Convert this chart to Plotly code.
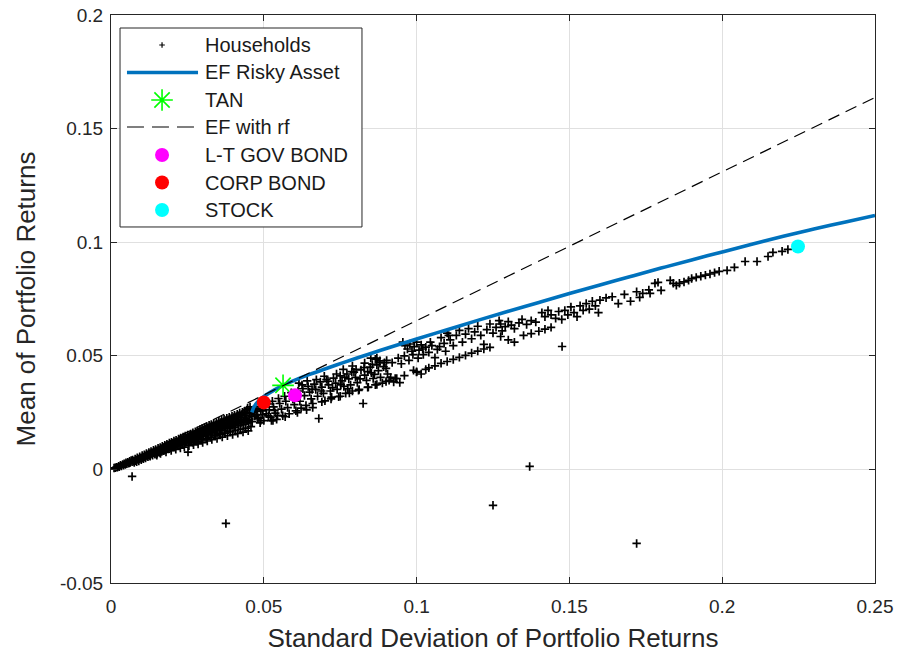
import plotly.graph_objects as go

# ---------------------------------------------------------------------------
# Household portfolios: (standard deviation, mean) of realised returns
# ---------------------------------------------------------------------------
household_points = [
    # low-risk wedge near the origin
    (0.0010, 0.0006), (0.0014, 0.0007), (0.0018, 0.0010), (0.0021, 0.0009), (0.0025, 0.0014), (0.0027, 0.0011),
    (0.0031, 0.0018), (0.0034, 0.0015), (0.0038, 0.0022), (0.0041, 0.0018), (0.0043, 0.0025), (0.0047, 0.0021),
    (0.0049, 0.0029), (0.0052, 0.0025), (0.0055, 0.0032), (0.0058, 0.0027), (0.0061, 0.0036), (0.0063, 0.0030),
    (0.0066, 0.0039), (0.0069, 0.0033), (0.0071, 0.0042), (0.0074, 0.0036), (0.0076, 0.0030), (0.0079, 0.0046),
    (0.0081, 0.0040), (0.0084, 0.0034), (0.0086, 0.0051), (0.0089, 0.0044), (0.0091, 0.0037), (0.0094, 0.0056),
    (0.0096, 0.0049), (0.0099, 0.0042), (0.0102, 0.0061), (0.0104, 0.0054), (0.0106, 0.0047), (0.0109, 0.0065),
    (0.0111, 0.0058), (0.0113, 0.0050), (0.0116, 0.0070), (0.0119, 0.0062), (0.0121, 0.0055), (0.0124, 0.0075),
    (0.0126, 0.0067), (0.0128, 0.0058), (0.0131, 0.0079), (0.0134, 0.0071), (0.0136, 0.0062), (0.0139, 0.0084),
    (0.0141, 0.0075), (0.0144, 0.0066), (0.0146, 0.0088), (0.0149, 0.0080), (0.0151, 0.0070), (0.0154, 0.0093),
    (0.0156, 0.0084), (0.0159, 0.0074), (0.0161, 0.0097), (0.0163, 0.0089), (0.0166, 0.0079), (0.0168, 0.0102),
    (0.0171, 0.0093), (0.0173, 0.0082), (0.0176, 0.0107), (0.0178, 0.0097), (0.0181, 0.0087), (0.0183, 0.0111),
    (0.0186, 0.0101), (0.0188, 0.0090), (0.0191, 0.0116), (0.0193, 0.0106), (0.0196, 0.0094), (0.0198, 0.0120),
    (0.0201, 0.0110), (0.0203, 0.0098), (0.0206, 0.0125), (0.0208, 0.0114), (0.0211, 0.0102), (0.0213, 0.0129),
    (0.0216, 0.0118), (0.0218, 0.0105), (0.0221, 0.0134), (0.0223, 0.0123), (0.0226, 0.0109), (0.0228, 0.0138),
    (0.0231, 0.0127), (0.0233, 0.0113), (0.0236, 0.0143), (0.0238, 0.0131), (0.0241, 0.0117), (0.0243, 0.0147),
    (0.0246, 0.0135), (0.0248, 0.0121), (0.0251, 0.0152), (0.0252, 0.0076), (0.0254, 0.0139), (0.0256, 0.0124),
    (0.0258, 0.0145), (0.0261, 0.0156), (0.0263, 0.0128), (0.0266, 0.0150), (0.0268, 0.0161), (0.0270, 0.0108),
    (0.0272, 0.0133), (0.0274, 0.0155), (0.0276, 0.0166), (0.0279, 0.0138), (0.0281, 0.0159), (0.0283, 0.0170),
    (0.0285, 0.0112), (0.0287, 0.0142), (0.0289, 0.0163), (0.0291, 0.0176), (0.0294, 0.0147), (0.0296, 0.0168),
    (0.0298, 0.0180), (0.0300, 0.0118), (0.0302, 0.0151), (0.0304, 0.0172), (0.0306, 0.0185), (0.0309, 0.0156),
    (0.0311, 0.0177), (0.0313, 0.0189), (0.0315, 0.0125), (0.0317, 0.0160), (0.0319, 0.0181), (0.0321, 0.0194),
    (0.0324, 0.0165), (0.0326, 0.0186), (0.0328, 0.0198), (0.0330, 0.0131), (0.0332, 0.0169), (0.0334, 0.0190),
    (0.0336, 0.0203), (0.0339, 0.0148), (0.0341, 0.0174), (0.0343, 0.0195), (0.0345, 0.0207), (0.0347, 0.0136),
    (0.0349, 0.0178), (0.0351, 0.0199), (0.0353, 0.0212), (0.0356, 0.0154), (0.0358, 0.0183), (0.0360, 0.0204),
    (0.0362, 0.0216), (0.0364, 0.0142), (0.0366, 0.0187), (0.0368, 0.0208), (0.0370, 0.0221), (0.0373, 0.0160),
    (0.0375, 0.0192), (0.0377, 0.0213), (0.0379, 0.0225), (0.0381, 0.0148), (0.0383, 0.0196), (0.0385, 0.0217),
    (0.0387, 0.0230), (0.0390, 0.0165), (0.0392, 0.0201), (0.0394, 0.0222), (0.0396, 0.0234), (0.0398, 0.0153),
    (0.0400, 0.0205), (0.0402, 0.0226), (0.0404, 0.0239), (0.0407, 0.0171), (0.0409, 0.0210), (0.0411, 0.0231),
    (0.0413, 0.0243), (0.0415, 0.0159), (0.0417, 0.0214), (0.0419, 0.0235), (0.0421, 0.0248), (0.0424, 0.0177),
    (0.0426, 0.0219), (0.0428, 0.0240), (0.0430, 0.0252), (0.0432, 0.0164), (0.0434, 0.0198), (0.0436, 0.0244),
    (0.0438, 0.0257), (0.0441, 0.0182), (0.0443, 0.0224), (0.0445, 0.0262), (0.0447, 0.0270), (0.0449, 0.0170),
    (0.0451, 0.0205), (0.0453, 0.0250), (0.0455, 0.0275), (0.0458, 0.0188), (0.0460, 0.0232),
    (0.0150, 0.0062), (0.0162, 0.0070), (0.0172, 0.0089), (0.0180, 0.0076), (0.0190, 0.0100), (0.0197, 0.0083),
    (0.0205, 0.0107), (0.0212, 0.0088), (0.0219, 0.0113), (0.0227, 0.0094), (0.0234, 0.0121), (0.0240, 0.0098),
    (0.0247, 0.0128), (0.0255, 0.0104), (0.0262, 0.0136), (0.0269, 0.0118), (0.0277, 0.0146), (0.0284, 0.0124),
    (0.0290, 0.0152), (0.0297, 0.0130), (0.0305, 0.0160), (0.0312, 0.0135), (0.0320, 0.0170), (0.0327, 0.0142),
    (0.0335, 0.0178), (0.0342, 0.0150), (0.0350, 0.0188), (0.0357, 0.0160), (0.0365, 0.0196), (0.0372, 0.0170),
    (0.0380, 0.0205), (0.0388, 0.0178), (0.0395, 0.0212), (0.0403, 0.0186), (0.0410, 0.0220), (0.0418, 0.0193),
    (0.0425, 0.0230), (0.0433, 0.0206), (0.0440, 0.0238), (0.0448, 0.0215), (0.0455, 0.0245), (0.0462, 0.0210),
    (0.0468, 0.0250), (0.0475, 0.0240), (0.0483, 0.0228), (0.0490, 0.0215), (0.0497, 0.0258), (0.0508, 0.0245),
    (0.0515, 0.0236), (0.0525, 0.0215), (0.0535, 0.0260), (0.0545, 0.0238),
    (0.0060, 0.0029), (0.0080, 0.0038), (0.0092, 0.0046), (0.0101, 0.0050), (0.0110, 0.0054), (0.0118, 0.0058),
    (0.0127, 0.0061), (0.0135, 0.0066), (0.0143, 0.0070), (0.0152, 0.0075), (0.0160, 0.0078), (0.0169, 0.0083),
    (0.0177, 0.0086), (0.0185, 0.0092), (0.0194, 0.0096), (0.0202, 0.0101), (0.0210, 0.0104), (0.0218, 0.0109),
    (0.0227, 0.0113), (0.0235, 0.0116), (0.0244, 0.0121), (0.0252, 0.0125), (0.0260, 0.0130), (0.0268, 0.0133),
    (0.0277, 0.0137), (0.0286, 0.0142), (0.0294, 0.0146), (0.0303, 0.0150), (0.0311, 0.0153), (0.0320, 0.0158),
    (0.0329, 0.0162), (0.0337, 0.0166), (0.0346, 0.0170), (0.0355, 0.0174), (0.0363, 0.0178), (0.0372, 0.0182),
    (0.0381, 0.0186), (0.0390, 0.0190), (0.0398, 0.0195), (0.0407, 0.0199), (0.0416, 0.0203), (0.0425, 0.0206),
    (0.0434, 0.0211), (0.0443, 0.0215), (0.0452, 0.0219),
    # around the bond portfolios
    (0.0465, 0.0262), (0.0472, 0.0270), (0.0478, 0.0255), (0.0485, 0.0278), (0.0490, 0.0262), (0.0495, 0.0240),
    (0.0470, 0.0235), (0.0480, 0.0222), (0.0488, 0.0205), (0.0500, 0.0215), (0.0505, 0.0275), (0.0512, 0.0288),
    (0.0518, 0.0262), (0.0522, 0.0230), (0.0528, 0.0300), (0.0532, 0.0275), (0.0538, 0.0248), (0.0542, 0.0220),
    (0.0548, 0.0312), (0.0552, 0.0290), (0.0558, 0.0265), (0.0562, 0.0236), (0.0568, 0.0322), (0.0572, 0.0300),
    (0.0578, 0.0272), (0.0583, 0.0245), (0.0590, 0.0338), (0.0595, 0.0310), (0.0600, 0.0285), (0.0605, 0.0258),
    (0.0612, 0.0345), (0.0618, 0.0300), (0.0622, 0.0270), (0.0628, 0.0355), (0.0633, 0.0325), (0.0638, 0.0282),
    (0.0645, 0.0365), (0.0650, 0.0340), (0.0655, 0.0310), (0.0660, 0.0290), (0.0665, 0.0375), (0.0670, 0.0352),
    (0.0676, 0.0322), (0.0680, 0.0224), (0.0685, 0.0385), (0.0690, 0.0362), (0.0695, 0.0335), (0.0700, 0.0302),
    (0.0705, 0.0395), (0.0712, 0.0372), (0.0718, 0.0345), (0.0722, 0.0318), (0.0728, 0.0402), (0.0735, 0.0380),
    (0.0740, 0.0352), (0.0745, 0.0320), (0.0750, 0.0412), (0.0756, 0.0390), (0.0762, 0.0365), (0.0768, 0.0335),
    (0.0772, 0.0420), (0.0778, 0.0398), (0.0784, 0.0372), (0.0790, 0.0345), (0.0795, 0.0428), (0.0800, 0.0405),
    (0.0806, 0.0382), (0.0812, 0.0352), (0.0818, 0.0438), (0.0825, 0.0290), (0.0830, 0.0415), (0.0836, 0.0392),
    (0.0842, 0.0362), (0.0848, 0.0450), (0.0852, 0.0425), (0.0858, 0.0400), (0.0865, 0.0372), (0.0870, 0.0460),
    (0.0875, 0.0435), (0.0882, 0.0405), (0.0888, 0.0380), (0.0895, 0.0470), (0.0900, 0.0445),
    (0.0530, 0.0215), (0.0570, 0.0232), (0.0610, 0.0250), (0.0640, 0.0262), (0.0660, 0.0272),
    (0.0760, 0.0440), (0.0790, 0.0455), (0.0830, 0.0468), (0.0870, 0.0490), (0.0850, 0.0490), (0.0865, 0.0485),
    (0.0880, 0.0478),
    (0.0615, 0.0380), (0.0625, 0.0372), (0.0642, 0.0390), (0.0658, 0.0352), (0.0672, 0.0395), (0.0688, 0.0345),
    (0.0698, 0.0410), (0.0710, 0.0388), (0.0725, 0.0360), (0.0738, 0.0420), (0.0752, 0.0372), (0.0765, 0.0405),
    (0.0775, 0.0355), (0.0788, 0.0430), (0.0802, 0.0440), (0.0815, 0.0398), (0.0828, 0.0448), (0.0840, 0.0430),
    (0.0855, 0.0462), (0.0862, 0.0418), (0.0878, 0.0470), (0.0892, 0.0452),
    (0.0690, 0.0297), (0.0720, 0.0310), (0.0750, 0.0322), (0.0780, 0.0336), (0.0810, 0.0348), (0.0840, 0.0361),
    (0.0870, 0.0374), (0.0900, 0.0387), (0.0930, 0.0400), (0.0960, 0.0413), (0.1000, 0.0430), (0.1040, 0.0447),
    (0.1060, 0.0456),
    # mid-risk band
    (0.0905, 0.0420), (0.0910, 0.0392), (0.0915, 0.0405), (0.0925, 0.0385), (0.0935, 0.0400), (0.0945, 0.0382),
    (0.0902, 0.0480), (0.0920, 0.0470), (0.0940, 0.0490), (0.0950, 0.0465), (0.0960, 0.0500), (0.0975, 0.0480),
    (0.0988, 0.0505), (0.1005, 0.0490), (0.1020, 0.0530), (0.1045, 0.0560), (0.1075, 0.0540), (0.1095, 0.0520),
    (0.1105, 0.0590),
    (0.0955, 0.0560), (0.0962, 0.0545), (0.0970, 0.0530), (0.0978, 0.0552), (0.0985, 0.0520), (0.0992, 0.0540),
    (0.1000, 0.0560), (0.1008, 0.0525), (0.1015, 0.0548), (0.1022, 0.0505), (0.1030, 0.0538), (0.1040, 0.0515),
    (0.1050, 0.0545), (0.1060, 0.0492), (0.1068, 0.0528), (0.0990, 0.0436), (0.1000, 0.0428), (0.1015, 0.0420),
    (0.1030, 0.0440),
    (0.1080, 0.0580), (0.1090, 0.0555), (0.1100, 0.0600), (0.1110, 0.0570), (0.1120, 0.0545), (0.1130, 0.0590),
    (0.1140, 0.0612), (0.1150, 0.0560), (0.1160, 0.0595), (0.1170, 0.0620), (0.1180, 0.0575), (0.1190, 0.0605),
    (0.1200, 0.0630), (0.1210, 0.0590), (0.1220, 0.0550), (0.1230, 0.0615), (0.1240, 0.0640), (0.1250, 0.0600),
    (0.1260, 0.0625), (0.1270, 0.0655), (0.1280, 0.0610),
    (0.1080, 0.0467), (0.1100, 0.0475), (0.1120, 0.0484), (0.1140, 0.0493), (0.1160, 0.0502), (0.1180, 0.0512),
    (0.1200, 0.0521), (0.1220, 0.0530), (0.1240, 0.0537),
    # higher-risk band
    (0.1275, 0.0640), (0.1290, 0.0628), (0.1300, 0.0650), (0.1310, 0.0635), (0.1320, 0.0620), (0.1335, 0.0645),
    (0.1345, 0.0660), (0.1360, 0.0638), (0.1375, 0.0655), (0.1390, 0.0648),
    (0.1275, 0.0585), (0.1300, 0.0570), (0.1320, 0.0560), (0.1350, 0.0590), (0.1375, 0.0598), (0.1400, 0.0608),
    (0.1420, 0.0617), (0.1440, 0.0625),
    (0.1410, 0.0690), (0.1420, 0.0672), (0.1430, 0.0700), (0.1440, 0.0680), (0.1455, 0.0665), (0.1465, 0.0695),
    (0.1475, 0.0660), (0.1476, 0.0541), (0.1485, 0.0700), (0.1495, 0.0680), (0.1505, 0.0715), (0.1515, 0.0690),
    (0.1525, 0.0672), (0.1535, 0.0720), (0.1545, 0.0700), (0.1555, 0.0730), (0.1565, 0.0705), (0.1575, 0.0740),
    (0.1585, 0.0720), (0.1595, 0.0690), (0.1600, 0.0745),
    (0.1620, 0.0755), (0.1640, 0.0760), (0.1660, 0.0730), (0.1680, 0.0770), (0.1700, 0.0740), (0.1720, 0.0782),
    (0.1740, 0.0775), (0.1760, 0.0790),
    (0.1730, 0.0757), (0.1764, 0.0775), (0.1780, 0.0819), (0.1790, 0.0823), (0.1800, 0.0788), (0.1830, 0.0832),
    (0.1840, 0.0819), (0.1850, 0.0810), (0.1860, 0.0819), (0.1875, 0.0825), (0.1890, 0.0832), (0.1900, 0.0840),
    (0.1915, 0.0845), (0.1930, 0.0850), (0.1945, 0.0855), (0.1960, 0.0860), (0.1975, 0.0866), (0.1990, 0.0872),
    (0.2016, 0.0876), (0.2040, 0.0889), (0.2075, 0.0915), (0.2114, 0.0915), (0.2150, 0.0937), (0.2166, 0.0955),
    (0.2196, 0.0960), (0.2215, 0.0968),
    # outliers
    (0.0069, -0.0031), (0.0376, -0.0238), (0.1370, 0.0013), (0.1250, -0.0158), (0.1720, -0.0326),
]
hh_sd = [p[0] for p in household_points]
hh_mu = [p[1] for p in household_points]

# Efficient frontier of the risky assets
ef_sd = [0.0461, 0.0468, 0.0482, 0.0505, 0.0535, 0.0563, 0.0600, 0.0650, 0.0700, 0.0760,
         0.0820, 0.0880, 0.0950, 0.1000, 0.1100, 0.1200, 0.1300, 0.1400, 0.1500, 0.1600,
         0.1700, 0.1800, 0.1900, 0.2000, 0.2100, 0.2200, 0.2300, 0.2400, 0.2500]
ef_mu = [0.0251, 0.0275, 0.0300, 0.0325, 0.0350, 0.0370, 0.0392, 0.0418, 0.0442, 0.0470,
         0.0497, 0.0523, 0.0553, 0.0574, 0.0615, 0.0656, 0.0696, 0.0735, 0.0774, 0.0812,
         0.0849, 0.0886, 0.0922, 0.0957, 0.0992, 0.1026, 0.1058, 0.1088, 0.1118]

# Capital allocation line through the tangency portfolio
cal_sd = [0.0, 0.25]
cal_mu = [0.0, 0.1637]

tan_sd, tan_mu = [0.0563], [0.0370]
gov_sd, gov_mu = [0.0602], [0.0326]
corp_sd, corp_mu = [0.0500], [0.0295]
stock_sd, stock_mu = [0.2248], [0.0981]

x_ticks = [0, 0.05, 0.1, 0.15, 0.2, 0.25]
x_tick_text = ["0", "0.05", "0.1", "0.15", "0.2", "0.25"]
y_ticks = [-0.05, 0, 0.05, 0.1, 0.15, 0.2]
y_tick_text = ["-0.05", "0", "0.05", "0.1", "0.15", "0.2"]

FONT = "Liberation Sans, Arial, Helvetica, sans-serif"
TXT = "#262626"
BLUE = "#0072bd"

hh_marker = dict(symbol="cross-thin", size=6, color="black", line=dict(color="black", width=1.7))
tan_marker = dict(symbol="asterisk-open", size=18, color="#00ff00", line=dict(color="#00ff00", width=1.6))
dot = lambda c: dict(symbol="circle", size=14, color=c, line=dict(width=0))

fig = go.Figure()
fig.add_trace(go.Scatter(x=hh_sd, y=hh_mu, mode="markers", marker=hh_marker, name="Households"))
fig.add_trace(go.Scatter(x=ef_sd, y=ef_mu, mode="lines", line=dict(color=BLUE, width=3.6, shape="spline"),
                         name="EF Risky Asset"))
fig.add_trace(go.Scatter(x=tan_sd, y=tan_mu, mode="markers", marker=tan_marker, name="TAN"))
fig.add_trace(go.Scatter(x=cal_sd, y=cal_mu, mode="lines", line=dict(color="black", width=1.2, dash="12px,7px"),
                         name="EF with rf"))
fig.add_trace(go.Scatter(x=gov_sd, y=gov_mu, mode="markers", marker=dot("#ff00ff"), name="L-T GOV BOND"))
fig.add_trace(go.Scatter(x=corp_sd, y=corp_mu, mode="markers", marker=dot("#ff0000"), name="CORP BOND"))
fig.add_trace(go.Scatter(x=stock_sd, y=stock_mu, mode="markers", marker=dot("#00ffff"), name="STOCK"))

# Legend drawn on an overlay axis spanning the plot area (0..1 in both directions)
box_x0, box_x1, box_y0, box_y1 = 0.0118, 0.3285, 0.6268, 0.9771
sym_x, line_x0, line_x1, text_x = 0.0668, 0.0209, 0.1139, 0.1204
entries = [
    ("Households", "hh", 0.9472),
    ("EF Risky Asset", "ef", 0.8988),
    ("TAN", "tan", 0.8504),
    ("EF with rf", "cal", 0.8028),
    ("L-T GOV BOND", "#ff00ff", 0.7535),
    ("CORP BOND", "#ff0000", 0.7051),
    ("STOCK", "#00ffff", 0.6567),
]
leg = dict(xaxis="x2", yaxis="y2", showlegend=False, hoverinfo="skip")
fig.add_trace(go.Scatter(x=[box_x0, box_x1, box_x1, box_x0, box_x0], y=[box_y0, box_y0, box_y1, box_y1, box_y0],
                         mode="lines", fill="toself", fillcolor="white", line=dict(color=TXT, width=1), **leg))
annotations = []
for label, kind, yy in entries:
    if kind == "hh":
        fig.add_trace(go.Scatter(x=[sym_x], y=[yy], mode="markers",
                                 marker=dict(hh_marker, size=4, line=dict(color="black", width=1.2)), **leg))
    elif kind == "ef":
        fig.add_trace(go.Scatter(x=[line_x0, line_x1], y=[yy, yy], mode="lines",
                                 line=dict(color=BLUE, width=3.6), **leg))
    elif kind == "tan":
        fig.add_trace(go.Scatter(x=[sym_x], y=[yy], mode="markers", marker=tan_marker, **leg))
    elif kind == "cal":
        fig.add_trace(go.Scatter(x=[line_x0, line_x1], y=[yy, yy], mode="lines",
                                 line=dict(color="black", width=1.2, dash="17px,8px"), **leg))
    else:
        fig.add_trace(go.Scatter(x=[sym_x], y=[yy], mode="markers", marker=dot(kind), **leg))
    annotations.append(dict(x=text_x, y=yy, xref="paper", yref="paper", text=label, showarrow=False,
                            xanchor="left", yanchor="middle", font=dict(family=FONT, size=20, color="#1a1a1a")))

axis_common = dict(
    showgrid=True, gridcolor="#e0e0e0", gridwidth=1, zeroline=False,
    showline=True, linecolor=TXT, linewidth=1, mirror="ticks",
    ticks="inside", ticklen=6, tickcolor=TXT, automargin=False,
    tickfont=dict(family=FONT, size=19, color=TXT),
)
fig.update_layout(
    width=900, height=657,
    margin=dict(l=111, r=25, t=15, b=74),
    paper_bgcolor="white", plot_bgcolor="white",
    showlegend=False,
    font=dict(family=FONT, color=TXT),
    xaxis=dict(range=[0, 0.25], tickvals=x_ticks, ticktext=x_tick_text, ticklabelstandoff=6,
               title=dict(text="Standard Deviation of Portfolio Returns",
                          font=dict(family=FONT, size=26, color=TXT), standoff=13),
               **axis_common),
    yaxis=dict(range=[-0.05, 0.2], tickvals=y_ticks, ticktext=y_tick_text, ticklabelstandoff=3,
               title=dict(text="Mean of Portfolio Returns",
                          font=dict(family=FONT, size=26, color=TXT), standoff=16),
               **axis_common),
    xaxis2=dict(overlaying="x", anchor="y2", range=[0, 1], visible=False, fixedrange=True),
    yaxis2=dict(overlaying="y", anchor="x2", range=[0, 1], visible=False, fixedrange=True),
    annotations=annotations,
)

fig.write_html("out.html")
